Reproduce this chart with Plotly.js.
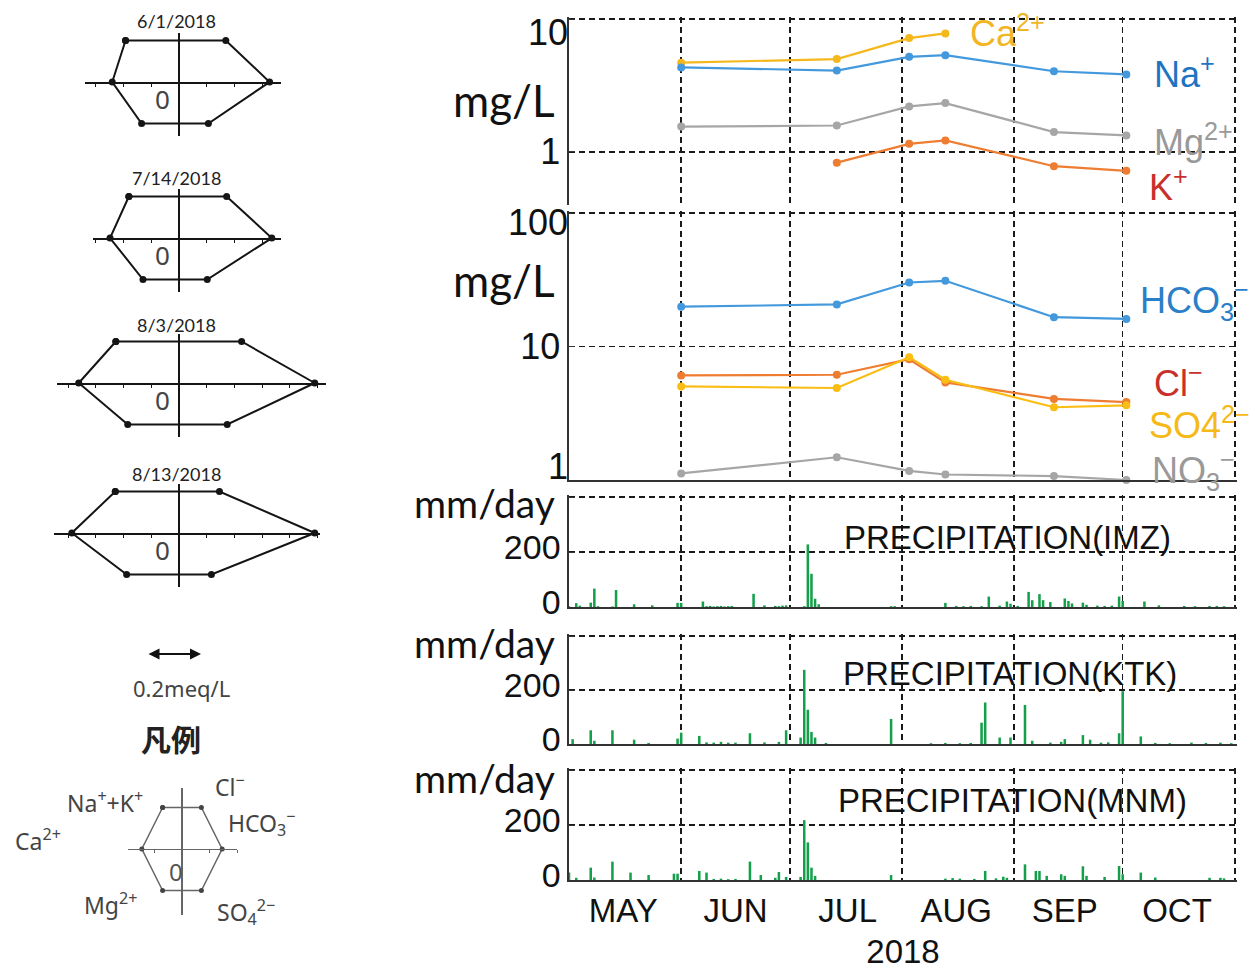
<!DOCTYPE html>
<html>
<head>
<meta charset="utf-8">
<script src="https://cdn.plot.ly/plotly-3.0.1.min.js"></script>
<style>html,body{margin:0;padding:0;background:#fff;}#chart{width:1260px;height:974px;}</style>
</head>
<body>
<div id="chart"></div>
<script>
// ---------------- DATA ----------------
const sampleDates = ['2018-06-01','2018-07-14','2018-08-03','2018-08-13','2018-09-12','2018-10-02'];
// cations mg/L
const caVals  = [4.7, 5.0, 7.2, 7.8, null, null];
const naVals  = [4.33, 4.1, 5.2, 5.35, 4.05, 3.83];
const mgVals  = [1.55, 1.58, 2.2, 2.33, 1.41, 1.33];
const kVals   = [null, 0.83, 1.15, 1.22, 0.78, 0.72];
// anions mg/L
const hco3Vals = [19.9, 20.7, 30.2, 31.1, 16.6, 16.1];
const clVals   = [6.08, 6.15, 8.04, 5.39, 4.05, 3.84];
const so4Vals  = [5.03, 4.89, 8.33, 5.64, 3.51, 3.63];
const no3Vals  = [1.12, 1.48, 1.17, 1.10, 1.07, 1.0];

// daily precipitation (mm/day), 2018-05-01 .. 2018-10-31
const imzMay = [3,0,14,5,0,0,16,67,3,0,0,0,2,62,0,0,0,0,10,0,0,0,0,6,0,0,0,0,0,0,15];
const imzJun = [15,0,0,0,0,0,20,3,4,2,3,4,2,3,4,0,0,0,0,0,48,0,0,6,0,0,4,3,5,6];
const imzJul = [0,0,0,0,3,228,121,30,10,0,0,0,0,0,0,0,0,0,0,0,0,0,0,0,0,0,0,0,3,3,0];
const imzAug = [0,0,0,0,0,0,0,0,0,0,0,0,15,0,0,4,0,3,0,4,0,0,3,0,38,0,0,5,0,20,12];
const imzSep = [0,4,0,0,55,25,0,47,25,0,18,0,0,0,31,22,13,0,0,16,8,0,0,5,0,4,0,5,0,38];
const imzOct = [22,0,0,0,0,0,20,0,0,0,6,0,0,0,0,0,0,4,0,0,3,0,0,0,4,0,4,0,3,0,0];

const ktkMay = [0,18,0,0,0,0,51,12,0,0,0,0,51,0,0,0,0,0,16,0,0,0,4,0,0,0,0,0,0,0,20];
const ktkJun = [42,0,0,0,0,30,0,6,0,5,0,8,0,5,0,5,0,0,0,40,0,0,0,6,0,0,0,8,0,51];
const ktkJul = [0,0,0,24,275,127,45,24,0,0,4,0,0,0,0,0,0,0,0,0,0,0,0,0,0,0,0,0,93,0,0];
const ktkAug = [0,0,0,0,0,0,0,0,3,0,0,0,4,0,0,0,3,0,0,4,0,0,79,154,0,0,0,24,0,0,24];
const ktkSep = [0,0,0,145,0,12,0,0,0,0,5,0,0,8,18,0,0,0,0,33,0,16,0,0,5,0,6,0,0,40];
const ktkOct = [196,0,0,0,0,28,0,0,0,4,0,0,0,3,0,0,0,0,0,5,0,0,0,4,0,0,0,5,0,0,3];

const mnmMay = [27,0,8,0,0,0,45,9,0,0,0,0,67,0,0,0,0,27,0,0,0,0,18,0,0,0,0,0,0,23,23];
const mnmJun = [0,0,0,0,0,33,0,27,0,4,0,5,0,3,0,4,0,0,0,67,0,0,18,0,0,0,8,29,0,11];
const mnmJul = [0,0,0,11,218,137,45,15,0,0,0,0,0,0,0,0,0,0,0,0,0,0,0,0,0,0,0,0,18,0,0];
const mnmAug = [0,0,0,0,0,0,0,0,0,0,0,0,5,0,7,0,5,0,0,0,4,0,0,33,0,0,6,0,12,8,0];
const mnmSep = [0,0,0,57,0,0,33,33,0,15,0,0,0,21,15,0,0,0,0,50,15,0,0,0,0,11,0,0,0,51];
const mnmOct = [21,0,0,0,0,27,0,0,0,9,0,0,0,0,0,0,0,0,0,0,0,0,0,0,8,0,0,8,6,0,0];

// month axis
const monthStarts = ['2018-05-01','2018-06-01','2018-07-01','2018-08-01','2018-09-01','2018-10-01','2018-11-01'];
const monthLabelDates = ['2018-05-16','2018-06-16','2018-07-17','2018-08-16','2018-09-15','2018-10-16'];
const monthLabels = ['MAY','JUN','JUL','AUG','SEP','OCT'];

// Stiff diagrams (meq/L)
const stiffTitles = ['6/1/2018','7/14/2018','8/3/2018','8/13/2018'];
const stiffNaK  = [0.193, 0.181, 0.228, 0.230];
const stiffCa   = [0.241, 0.249, 0.362, 0.387];
const stiffMg   = [0.135, 0.130, 0.185, 0.189];
const stiffCl   = [0.169, 0.172, 0.226, 0.146];
const stiffHCO3 = [0.327, 0.335, 0.490, 0.490];
const stiffSO4  = [0.106, 0.102, 0.174, 0.117];
// legend schematic
const legNaK = 0.07, legCa = 0.145, legMg = 0.07, legCl = 0.07, legHCO3 = 0.145, legSO4 = 0.07;

// ---------------- LAYOUT HELPERS ----------------
const W = 1260, H = 974;
const px = v => v / W;
const py = v => 1 - v / H;
const SANS = "Liberation Sans, Arial, sans-serif";
const HUMAN = "Lato, Open Sans, sans-serif";
const NOTO = "Noto Sans, sans-serif";
const GRID = '#1a1a1a', DASH = '6px,4px', GW = 1.6;
const XD = [px(569), px(1237)];
const XR = ['2018-05-01', '2018-11-01 14:00'];

const data = [];
function line(x, y, color, xa, ya) {
  data.push({type:'scatter', mode:'lines+markers', x:x, y:y, xaxis:xa, yaxis:ya,
    line:{color:color, width:2.2}, marker:{color:color, size:8}, cliponaxis:false, connectgaps:false});
}
line(sampleDates, caVals, '#f5b81c', 'x', 'y');
line(sampleDates, naVals, '#4499dd', 'x', 'y');
line(sampleDates, mgVals, '#a6a6a6', 'x', 'y');
line(sampleDates, kVals, '#ee7d31', 'x', 'y');
line(sampleDates, hco3Vals, '#4499dd', 'x2', 'y2');
line(sampleDates, no3Vals, '#a6a6a6', 'x2', 'y2');
line(sampleDates, clVals, '#ee7d31', 'x2', 'y2');
line(sampleDates, so4Vals, '#f9bd14', 'x2', 'y2');
// empty traces binding the label-only overlay axes
['y11','y12','y13'].forEach(ya => data.push({type:'scatter', mode:'markers', x:[], y:[], xaxis: ya === 'y11' ? 'x' : 'x2', yaxis:ya}));

const precip = [
  [].concat(imzMay, imzJun, imzJul, imzAug, imzSep, imzOct),
  [].concat(ktkMay, ktkJun, ktkJul, ktkAug, ktkSep, ktkOct),
  [].concat(mnmMay, mnmJun, mnmJul, mnmAug, mnmSep, mnmOct)
];
precip.forEach((vals, i) => {
  data.push({type:'bar', x0:'2018-05-01', dx:86400000, y:vals, xaxis:'x'+(i+3), yaxis:'y'+(i+3),
    marker:{color:'#14a04a', line:{width:0}}});
});

// Stiff polygons
const stiffAxisY = [82, 238, 383, 533];
const stiffTitleY = [21, 178, 325, 474];
const stiffMin = [-0.34, -0.31, -0.44, -0.45];
const stiffMax = [0.37, 0.37, 0.53, 0.51];
const SCX = 179, SPX = 277, UNIT = 41.5;
stiffTitles.forEach((t, i) => {
  const k = 6 + i;
  data.push({type:'scatter', mode:'lines+markers', xaxis:'x'+k, yaxis:'y'+k,
    x:[-stiffNaK[i], stiffCl[i], stiffHCO3[i], stiffSO4[i], -stiffMg[i], -stiffCa[i], -stiffNaK[i]],
    y:[1, 1, 0, -1, -1, 0, 1],
    line:{color:'#151515', width:2}, marker:{color:'#151515', size:7}, cliponaxis:false});
});
data.push({type:'scatter', mode:'lines+markers', xaxis:'x10', yaxis:'y10',
  x:[-legNaK, legCl, legHCO3, legSO4, -legMg, -legCa, -legNaK], y:[1,1,0,-1,-1,0,1],
  line:{color:'#666', width:1.5}, marker:{color:'#444', size:5}, cliponaxis:false});

const layout = {
  width: W, height: H, margin:{l:0, r:0, t:0, b:0, pad:0},
  paper_bgcolor:'#fff', plot_bgcolor:'rgba(0,0,0,0)', showlegend:false, hovermode:false,
  bargap:0.3,
  annotations:[], font:{family:SANS, color:'#111'}
};

const TICKFONT = {family:SANS, size:36, color:'#111'};
function dateX(anchor, last) {
  const ax = {domain:XD, range:XR, type:'date', anchor:anchor, showgrid:true, gridcolor:GRID, griddash:DASH, gridwidth:GW,
    tickmode:'array', tickvals:monthStarts, showticklabels:false, ticks:'', zeroline:false,
    showline: anchor !== 'y', linecolor:'#333', linewidth:2, fixedrange:true};
  if (last) {
    ax.tickvals = monthLabelDates; ax.ticktext = monthLabels; ax.showticklabels = true; ax.showgrid = false;
    ax.tickfont = {family:SANS, size:33, color:'#111'};
    ax.minor = {tickmode:'array', tickvals:monthStarts, showgrid:true, gridcolor:GRID, griddash:DASH, gridwidth:GW, ticks:''};
    ax.title = {text:'2018', font:{family:SANS, size:33, color:'#111'}, standoff:12};
  }
  return ax;
}
function valY(anchor, top, bottom, opts) {
  return Object.assign({domain:[py(bottom), py(top)], anchor:anchor, showline:true, linecolor:'#333', linewidth:1.6,
    ticks:'inside', ticklen:6, tickcolor:'#333', showgrid:true, gridcolor:GRID, griddash:DASH, gridwidth:GW,
    zeroline:false, tickfont:TICKFONT, fixedrange:true}, opts);
}
function labelY(over, anchor, type, range, val, txt, shift) {
  return {overlaying:over, anchor:anchor, side:'left', type:type, range:range, tickmode:'array', tickvals:[val], ticktext:[txt],
    ticklabelshift:shift, showgrid:false, showline:false, zeroline:false, ticks:'', tickfont:TICKFONT, fixedrange:true};
}
const R1 = [-0.4, 1.016], R2 = [0, 2.016], RP = [0, 408];
layout.xaxis  = dateX('y');
layout.xaxis2 = dateX('y2');
layout.xaxis3 = dateX('y3');
layout.xaxis4 = dateX('y4');
layout.xaxis5 = dateX('y5', true);
layout.yaxis  = valY('x', 17, 205, {type:'log', range:R1, tickvals:[1, 10], ticktext:['1','']});
layout.yaxis2 = valY('x2', 211, 480, {type:'log', range:R2, tickvals:[1, 10, 100], ticktext:['','10','']});
// in this layout a positive ticklabelshift moves a y label downwards
layout.yaxis11 = labelY('y', 'x', 'log', R1, 10, '10', 13);
layout.yaxis12 = labelY('y2', 'x2', 'log', R2, 100, '100', 9);
layout.yaxis13 = labelY('y2', 'x2', 'log', R2, 1, '1', -14);
const precipTicks = {range:RP, tickvals:[0, 200, 400], ticktext:['0','200',''], ticklabelshift:-5,
  tickfont:{family:SANS, size:34, color:'#111'}};
layout.yaxis3 = valY('x3', 495, 607, precipTicks);
layout.yaxis4 = valY('x4', 634, 744, precipTicks);
layout.yaxis5 = valY('x5', 768, 880, precipTicks);

function stiffAxes(k, cx, axisY, xmin, xmax, up, down, color, lw) {
  layout['xaxis'+k] = {domain:[px(cx + xmin*SPX), px(cx + xmax*SPX)], range:[xmin, xmax], anchor:'free', position:py(axisY),
    showline:true, linecolor:color, linewidth:lw, ticks:'outside', ticklen:3, tickwidth:1, tickcolor:color,
    tick0:0, dtick:0.1, showticklabels:false, showgrid:false, zeroline:true, zerolinecolor:color, zerolinewidth:lw, fixedrange:true};
  layout['yaxis'+k] = {domain:[py(axisY + down), py(axisY - up)], range:[-down/UNIT, up/UNIT], anchor:'x'+k,
    visible:false, showgrid:false, zeroline:false, fixedrange:true};
}
stiffTitles.forEach((t, i) => {
  const k = 6 + i;
  stiffAxes(k, SCX, stiffAxisY[i], stiffMin[i], stiffMax[i], 49, 54, '#151515', 1.5);
  layout.annotations.push({xref:'paper', yref:'paper', x:px(176), y:py(stiffTitleY[i]), text:t, showarrow:false,
    font:{family:HUMAN, size:18, color:'#222'}, xanchor:'center', yanchor:'middle'});
  layout.annotations.push({xref:'x'+k, yref:'y'+k, x:-0.06, y:-0.42, text:'0', showarrow:false,
    font:{family:NOTO, size:26, color:'#444'}, xanchor:'center', yanchor:'middle'});
});
stiffAxes(10, 182, 849, -0.195, 0.2, 61, 66, '#666', 1.2);
layout.annotations.push({xref:'x10', yref:'y10', x:-0.02, y:-0.55, text:'0', showarrow:false,
  font:{family:NOTO, size:24, color:'#555'}, xanchor:'center', yanchor:'middle'});

function ann(x, y, text, size, color, family, xanchor, extra) {
  layout.annotations.push(Object.assign({xref:'paper', yref:'paper', x:px(x), y:py(y), text:text, showarrow:false,
    font:{family:family, size:size, color:color}, xanchor:xanchor || 'center', yanchor:'middle'}, extra || {}));
}
// left legend texts
layout.annotations.push({xref:'paper', yref:'paper', x:px(201), y:py(654), ax:-54, ay:0, axref:'pixel', ayref:'pixel',
  text:'', showarrow:true, arrowside:'end+start', arrowhead:2, arrowsize:1, arrowwidth:2.2, arrowcolor:'#111', standoff:0, startstandoff:0});
ann(182, 688, '0.2meq/L', 22, '#444', NOTO);
ann(171, 738, '<b>凡例</b>', 30, '#222', "Noto Sans CJK JP, sans-serif");
ann(105, 802, 'Na<sup>+</sup>+K<sup>+</sup>', 23, '#444', NOTO);
ann(38, 840, 'Ca<sup>2+</sup>', 23, '#444', NOTO);
ann(110, 904, 'Mg<sup>2+</sup>', 23, '#444', NOTO);
ann(230, 786, 'Cl<sup>−</sup>', 23, '#444', NOTO);
ann(262, 823, 'HCO<sub>3</sub><sup>−</sup>', 23, '#444', NOTO);
ann(246, 912, 'SO<sub>4</sub><sup>2−</sup>', 23, '#444', NOTO);

// right side unit labels
ann(557, 100, 'mg/L', 44, '#111', HUMAN, 'right');
ann(557, 280, 'mg/L', 44, '#111', HUMAN, 'right');
ann(557, 503, 'mm/day', 39, '#111', HUMAN, 'right');
ann(557, 643, 'mm/day', 39, '#111', HUMAN, 'right');
ann(557, 778, 'mm/day', 39, '#111', HUMAN, 'right');

// ion labels
ann(968, 31, 'Ca<sup>2+</sup>', 36, '#f2b625', SANS, 'left');
ann(1152, 72, 'Na<sup>+</sup>', 36, '#1f74c2', SANS, 'left');
ann(1152, 140, 'Mg<sup>2+</sup>', 36, '#999', SANS, 'left');
ann(1147, 185, 'K<sup>+</sup>', 36, '#c9302c', SANS, 'left');
ann(1138, 300, 'HCO<sub>3</sub><sup>−</sup>', 36, '#2a7fc8', SANS, 'left');
ann(1152, 381, 'Cl<sup>−</sup>', 36, '#c9302c', SANS, 'left');
ann(1147, 423, 'SO4<sup>2−</sup>', 36, '#f5b918', SANS, 'left');
ann(1150, 470, 'NO<sub>3</sub><sup>−</sup>', 36, '#999', SANS, 'left');

// precipitation station labels
ann(1007, 537, 'PRECIPITATION(IMZ)', 33, '#111', SANS);
ann(1010, 673, 'PRECIPITATION(KTK)', 33, '#111', SANS);
ann(1012, 800, 'PRECIPITATION(MNM)', 33, '#111', SANS);

Plotly.newPlot('chart', data, layout, {displayModeBar:false, staticPlot:true});
</script>
</body>
</html>
